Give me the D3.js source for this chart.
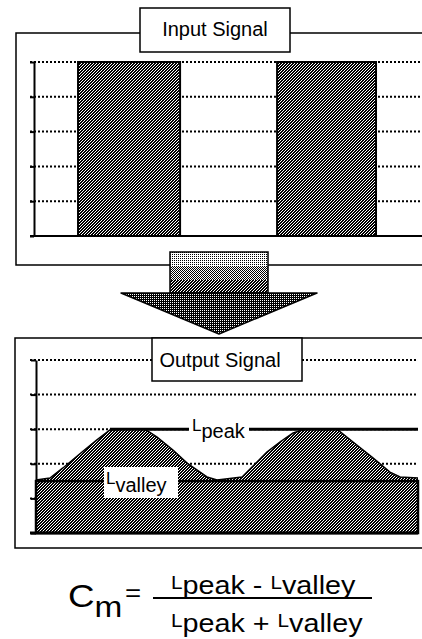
<!DOCTYPE html>
<html>
<head>
<meta charset="utf-8">
<script src="https://cdn.jsdelivr.net/npm/d3@7"></script>
<style>
  body { margin: 0; background: #fff; }
  svg { display: block; font-family: "Liberation Sans", Arial, sans-serif; }
</style>
</head>
<body>
<script>
// level axis shared by both panels
var levelTicks = [0, 1, 2, 3, 4, 5];

// input signal: two square pulses on a 0..20 time axis
var pulseStart = [2.27, 12.53];
var pulseEnd = [7.53, 17.63];
var pulseLevel = 5;

// output signal
var outTime = [0, 0.73, 1.41, 2.41, 3.19, 3.87, 4.4, 5.71, 6.34, 7.17, 7.91, 8.95, 9.48,
               10.79, 12.09, 12.77, 13.46, 14.08, 15.76, 16.6, 17.64, 18.53, 19.06, 20];
var outLevel = [1.53, 1.59, 1.88, 2.34, 2.69, 2.98, 3, 3, 2.77, 2.4, 2.02, 1.62, 1.53,
                1.62, 2.34, 2.63, 2.89, 3, 3, 2.63, 2.17, 1.76, 1.62, 1.59];
var peakLevel = 3;
var valleyLevel = 1.5;

var W = 422, H = 639;

var svg = d3.select('body').append('svg')
  .attr('width', W)
  .attr('height', H);

// halftone-like dither fills
var defs = svg.append('defs');
function dither(id, size, bg, fg, cells) {
  var p = defs.append('pattern')
    .attr('id', id)
    .attr('patternUnits', 'userSpaceOnUse')
    .attr('width', size).attr('height', size);
  p.append('rect').attr('width', size).attr('height', size).attr('fill', bg);
  cells.forEach(function(c) {
    p.append('rect').attr('x', c[0]).attr('y', c[1]).attr('width', 1).attr('height', 1).attr('fill', fg);
  });
}
dither('d25', 2, '#fff', '#000', [[0, 0]]);
dither('d50', 2, '#fff', '#000', [[0, 0], [1, 1]]);
dither('d67', 3, '#000', '#fff', [[0, 0], [2, 1], [1, 2]]);
dither('d75', 2, '#000', '#fff', [[0, 0]]);

function dotted(sel) {
  return sel.attr('stroke', '#000').attr('stroke-width', 2).attr('stroke-dasharray', '2,2');
}

/* ---------------- input panel ---------------- */
var xIn = d3.scaleLinear().domain([0, 20]).range([34, 422]);
var yIn = d3.scaleLinear().domain([0, 5]).range([236, 62]);

var inPanel = svg.append('g');

inPanel.append('path')
  .attr('d', 'M422,33H16V265H422')
  .attr('fill', 'none').attr('stroke', '#000').attr('stroke-width', 1.5);

inPanel.selectAll('.grid').data(levelTicks.slice(1)).enter()
  .append('line')
  .attr('x1', 30).attr('x2', 422)
  .attr('y1', function(d) { return yIn(d); })
  .attr('y2', function(d) { return yIn(d); })
  .call(dotted);

inPanel.append('g')
  .attr('transform', 'translate(' + xIn(0) + ',0)')
  .call(d3.axisLeft(yIn).tickValues(levelTicks).tickSize(4).tickSizeOuter(0).tickFormat(''))
  .call(function(g) { g.selectAll('path,line').attr('stroke-width', 2); });

inPanel.append('line')
  .attr('x1', 30).attr('x2', 422)
  .attr('y1', yIn(0)).attr('y2', yIn(0))
  .attr('stroke', '#000').attr('stroke-width', 2);

inPanel.selectAll('.pulse').data(pulseStart).enter()
  .append('rect')
  .attr('x', function(d) { return xIn(d); })
  .attr('width', function(d, i) { return xIn(pulseEnd[i]) - xIn(d); })
  .attr('y', yIn(pulseLevel))
  .attr('height', yIn(0) - yIn(pulseLevel))
  .attr('fill', 'url(#d67)')
  .attr('stroke', '#000').attr('stroke-width', 2);

inPanel.append('rect')
  .attr('x', 140).attr('y', 8).attr('width', 150).attr('height', 44)
  .attr('fill', '#fff').attr('stroke', '#000').attr('stroke-width', 1.5);
inPanel.append('text')
  .attr('x', 215).attr('y', 36)
  .attr('text-anchor', 'middle').attr('font-size', 20)
  .text('Input Signal');

/* ---------------- arrow ---------------- */
var arrow = svg.append('g');
[['d25', 252, 14], ['d50', 266, 14], ['d67', 280, 13]].forEach(function(b) {
  arrow.append('rect')
    .attr('x', 170).attr('width', 98)
    .attr('y', b[1]).attr('height', b[2])
    .attr('fill', 'url(#' + b[0] + ')');
});
arrow.append('rect')
  .attr('x', 170).attr('y', 252).attr('width', 98).attr('height', 41)
  .attr('fill', 'none').attr('stroke', '#000').attr('stroke-width', 1.5);
arrow.append('path')
  .attr('d', 'M121,293H317L219,334Z')
  .attr('fill', 'url(#d75)')
  .attr('stroke', '#000').attr('stroke-width', 1.5).attr('stroke-linejoin', 'round');

/* ---------------- output panel ---------------- */
var xOut = d3.scaleLinear().domain([0, 20]).range([36, 418]);
var yOut = d3.scaleLinear().domain([0, 5]).range([533, 360]);

var outPanel = svg.append('g');

outPanel.append('path')
  .attr('d', 'M422,338H15V548H422')
  .attr('fill', 'none').attr('stroke', '#000').attr('stroke-width', 1.5);

outPanel.selectAll('.grid').data(levelTicks.slice(1)).enter()
  .append('line')
  .attr('x1', 30).attr('x2', 416)
  .attr('y1', function(d) { return yOut(d); })
  .attr('y2', function(d) { return yOut(d); })
  .call(dotted);

outPanel.append('g')
  .attr('transform', 'translate(' + xOut(0) + ',0)')
  .call(d3.axisLeft(yOut).tickValues(levelTicks).tickSize(5).tickSizeOuter(0).tickFormat(''))
  .call(function(g) { g.selectAll('path,line').attr('stroke-width', 2); });

var pts = outTime.map(function(t, i) { return [t, outLevel[i]]; });

outPanel.append('path')
  .datum(pts)
  .attr('d', d3.area()
    .x(function(d) { return xOut(d[0]); })
    .y0(yOut(0))
    .y1(function(d) { return yOut(d[1]); }))
  .attr('fill', 'url(#d67)');

outPanel.append('path')
  .datum(pts)
  .attr('d', d3.line()
    .x(function(d) { return xOut(d[0]); })
    .y(function(d) { return yOut(d[1]); }))
  .attr('fill', 'none').attr('stroke', '#000').attr('stroke-width', 1.5);

outPanel.append('rect')
  .attr('x', xOut(0)).attr('width', xOut(20) - xOut(0))
  .attr('y', yOut(valleyLevel)).attr('height', yOut(0) - yOut(valleyLevel))
  .attr('fill', 'url(#d67)')
  .attr('stroke', '#000').attr('stroke-width', 2.5);

outPanel.append('line')
  .attr('x1', 30).attr('x2', xOut(20))
  .attr('y1', yOut(0)).attr('y2', yOut(0))
  .attr('stroke', '#000').attr('stroke-width', 3);

// L_peak marker line with its label
outPanel.append('line')
  .attr('x1', xOut(3.87)).attr('x2', xOut(20))
  .attr('y1', yOut(peakLevel)).attr('y2', yOut(peakLevel))
  .attr('stroke', '#000').attr('stroke-width', 3);
outPanel.append('rect')
  .attr('x', 189).attr('y', yOut(peakLevel) - 12).attr('width', 60).attr('height', 26)
  .attr('fill', '#fff');
var lp = outPanel.append('text').attr('x', 192).attr('y', yOut(peakLevel) + 2);
lp.append('tspan').attr('font-size', 17).text('L');
lp.append('tspan').attr('font-size', 20).attr('dy', 7).text('peak');

// L_valley label box
outPanel.append('rect')
  .attr('x', 104).attr('y', 467).attr('width', 74).attr('height', 31)
  .attr('fill', '#fff');
var lv = outPanel.append('text').attr('x', 106).attr('y', 484);
lv.append('tspan').attr('font-size', 17).text('L');
lv.append('tspan').attr('font-size', 20).attr('dy', 8).text('valley');

outPanel.append('rect')
  .attr('x', 152).attr('y', 338).attr('width', 150).attr('height', 43)
  .attr('fill', '#fff').attr('stroke', '#000').attr('stroke-width', 1.5);
outPanel.append('text')
  .attr('x', 220).attr('y', 367)
  .attr('text-anchor', 'middle').attr('font-size', 20)
  .text('Output Signal');

/* ---------------- contrast formula ---------------- */
var f = svg.append('g');
var sx = 1.15;

// one line of the fraction: [L, peak, op, L, valley]
function termLine(x, y, op) {
  var t = f.append('text')
    .attr('transform', 'translate(' + x + ',' + y + ') scale(' + sx + ',1)')
    .attr('font-size', 25);
  t.append('tspan').attr('font-size', 18).attr('dy', -5).text('L');
  t.append('tspan').attr('dy', 5).text('peak');
  t.append('tspan').text(' ' + op + ' ');
  t.append('tspan').attr('font-size', 18).attr('dy', -5).text('L');
  t.append('tspan').attr('dy', 5).text('valley');
}

var cm = f.append('text')
  .attr('transform', 'translate(68,607) scale(' + sx + ',1)')
  .attr('font-size', 32);
cm.append('tspan').text('C');
cm.append('tspan').attr('font-size', 29).attr('dy', 10).text('m');

f.append('text')
  .attr('transform', 'translate(125,601) scale(' + sx + ',1)')
  .attr('font-size', 24)
  .text('=');

termLine(171, 594, '-');

f.append('line')
  .attr('x1', 153).attr('x2', 372)
  .attr('y1', 598).attr('y2', 598)
  .attr('stroke', '#000').attr('stroke-width', 2);

termLine(171, 632, '+');
</script>
</body>
</html>
